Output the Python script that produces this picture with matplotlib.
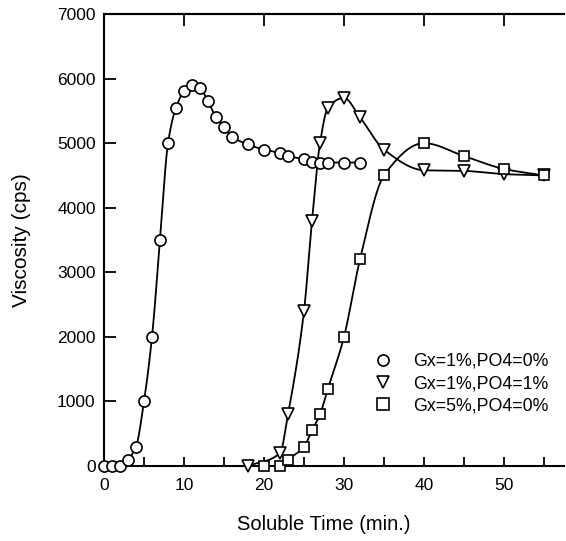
import numpy as np
import matplotlib
matplotlib.use("Agg")
import matplotlib.pyplot as plt
from matplotlib.lines import Line2D

plt.rcParams['font.family'] = ['Liberation Sans', 'DejaVu Sans']

# Data
circle_x = [0, 1, 2, 3, 4, 5, 6, 7, 8, 9, 10, 11, 12, 13, 14, 15, 16, 18, 20, 22, 23, 25, 26, 27, 28, 30, 32]
circle_y = [0, 0, 0, 100, 300, 1000, 2000, 3500, 5000, 5550, 5800, 5900, 5850, 5650, 5400, 5250, 5100,
            4980, 4900, 4850, 4800, 4750, 4710, 4700, 4700, 4700, 4700]
tri_x = [18, 22, 23, 25, 26, 27, 28, 30, 32, 35, 40, 45, 50, 55]
tri_y = [0, 200, 800, 2400, 3800, 5000, 5550, 5700, 5400, 4900, 4580, 4570, 4520, 4500]
sq_x = [20, 22, 23, 25, 26, 27, 28, 30, 32, 35, 40, 45, 50, 55]
sq_y = [0, 0, 100, 300, 550, 800, 1200, 2000, 3200, 4500, 5000, 4800, 4600, 4500]
labels = ["Gx=1%,PO4=0%", "Gx=1%,PO4=1%", "Gx=5%,PO4=0%"]
markers = ["o", "v", "s"]
x_ticks = [0, 10, 20, 30, 40, 50]
y_ticks = [0, 1000, 2000, 3000, 4000, 5000, 6000, 7000]


def pchip(x, y, n=20):
    x = np.asarray(x, float)
    y = np.asarray(y, float)
    h = np.diff(x)
    d = np.diff(y) / h
    m = np.zeros_like(y)
    for k in range(1, len(x) - 1):
        if d[k - 1] * d[k] > 0:
            w1 = 2 * h[k] + h[k - 1]
            w2 = h[k] + 2 * h[k - 1]
            m[k] = (w1 + w2) / (w1 / d[k - 1] + w2 / d[k])
        else:
            m[k] = 0.0
    m[0] = d[0]
    m[-1] = d[-1]
    xs, ys = [], []
    for k in range(len(x) - 1):
        t = np.linspace(0, 1, n, endpoint=False)
        hk = h[k]
        h00 = 2 * t**3 - 3 * t**2 + 1
        h10 = t**3 - 2 * t**2 + t
        h01 = -2 * t**3 + 3 * t**2
        h11 = t**3 - t**2
        xs.append(x[k] + t * hk)
        ys.append(h00 * y[k] + h10 * hk * m[k] + h01 * y[k + 1] + h11 * hk * m[k + 1])
    xs.append([x[-1]])
    ys.append([y[-1]])
    return np.concatenate(xs), np.concatenate(ys)


fig = plt.figure(figsize=(5.66, 5.41), dpi=100)
ax = fig.add_axes([104 / 566, 1 - 466 / 541, 460 / 566, 452 / 541])

series = [(circle_x, circle_y), (tri_x, tri_y), (sq_x, sq_y)]
for (xs, ys), mk in zip(series, markers):
    sx, sy = pchip(xs, ys)
    ax.plot(sx, sy, color='black', lw=1.3, zorder=2, clip_on=False)
    ms = 8 if mk == 'o' else (8.5 if mk == 'v' else 7.2)
    ax.plot(xs, ys, linestyle='none', marker=mk, markersize=ms, markerfacecolor='white',
            markeredgecolor='black', markeredgewidth=1.2, zorder=3, clip_on=False)

ax.set_xlim(0, 57.5)
ax.set_ylim(0, 7000)
ax.set_xticks(x_ticks)
ax.set_xticks(np.arange(5, 57, 10), minor=True)
ax.set_yticks(y_ticks)
ax.spines['right'].set_visible(False)
for s in ['left', 'bottom', 'top']:
    ax.spines[s].set_linewidth(1.5)
ax.tick_params(axis='both', which='both', direction='in', labelsize=12.5, width=1.3)
ax.tick_params(axis='x', which='both', length=6.5, pad=9, top=False)
ax.tick_params(axis='y', length=8.5, pad=6, right=False)

sec = ax.secondary_xaxis('top')
sec.set_xticks([10, 20, 30, 40, 50])
sec.tick_params(direction='in', length=8.5, width=1.3, labeltop=False)
sec.spines['top'].set_linewidth(1.5)

ax.set_xlabel("Soluble Time (min.)", fontsize=14.5)
ax.set_ylabel("Viscosity (cps)", fontsize=15)
ax.xaxis.set_label_coords(27.5 / 57.5, -0.108)
ax.yaxis.set_label_coords(-0.158, 0.5)

handles = [Line2D([], [], linestyle='none', marker=mk, markersize=8, markerfacecolor='white',
                  markeredgecolor='black', markeredgewidth=1.2) for mk in markers]
ax.legend(handles, labels, frameon=False, fontsize=12.8, loc='upper left',
          bbox_to_anchor=(365 / 566, 1 - 344 / 541), bbox_transform=fig.transFigure,
          handlelength=1.0, handletextpad=1.2, labelspacing=0.3, borderpad=0)

fig.savefig("out.png", dpi=100)
